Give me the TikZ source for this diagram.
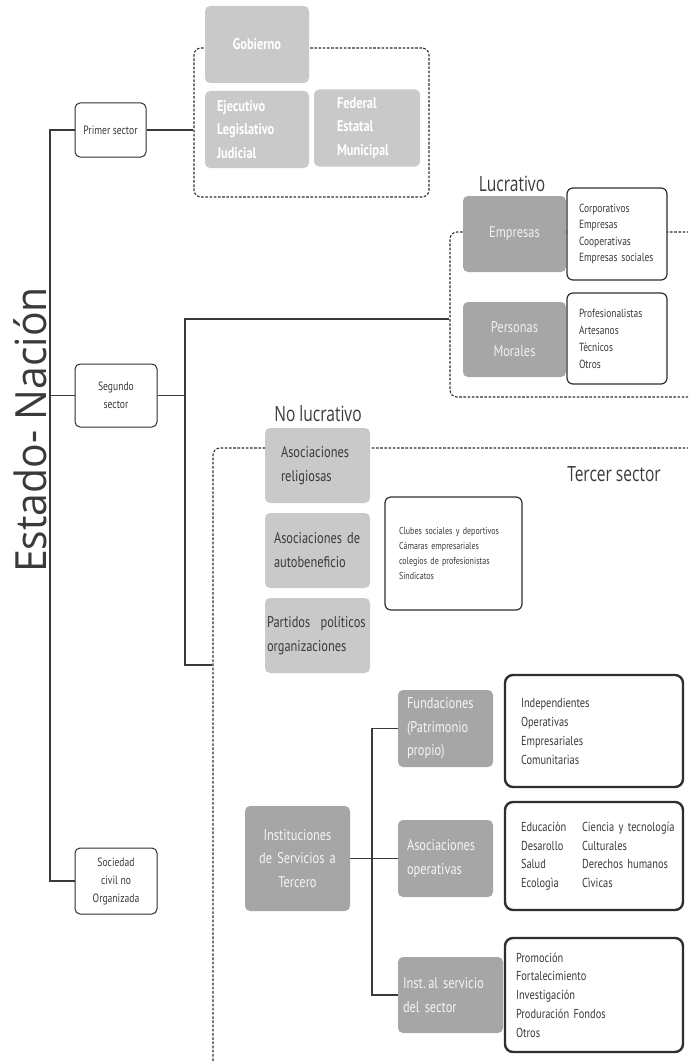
\documentclass[tikz,border=0pt]{standalone}
\usepackage{fontspec}
\newfontfamily\narrowfont{PT Sans}[FakeStretch=0.8]
\newfontfamily\lightfont{Open Sans}[FakeStretch=0.74]
\newfontfamily\titlefont{Open Sans}[FakeStretch=0.95]
\definecolor{ink}{HTML}{3A3A3A}
\definecolor{edge}{HTML}{2E2E2E}
\definecolor{boxlight}{HTML}{C9C9C9}
\definecolor{boxdark}{HTML}{A6A6A6}
\begin{document}
\begin{tikzpicture}[x=1pt,y=-1pt,
  conn/.style={draw=ink, line width=1.3pt},
  frame/.style={draw=edge, line width=1.1pt, dash pattern=on 2.6pt off 1.6pt, rounded corners=7pt, inner sep=0pt},
  sectorbox/.style={draw=edge, fill=white, line width=1pt, rounded corners=5pt, align=center, inner sep=0pt,
    text=ink, font=\narrowfont\fontsize{12}{18}\selectfont},
  govbox/.style={fill=boxlight, rounded corners=5pt, text=white, inner ysep=0pt,
    font=\narrowfont\bfseries\fontsize{15.5}{23.5}\selectfont},
  lucbox/.style={fill=boxdark, rounded corners=5pt, text=white!94!black, inner sep=0pt, align=center,
    font=\narrowfont\fontsize{15.5}{24}\selectfont},
  nlbox/.style={fill=boxlight, rounded corners=5pt, text=ink, inner ysep=0pt, align=left,
    font=\narrowfont\fontsize{15.5}{24}\selectfont},
  instbox/.style={fill=boxdark, rounded corners=5pt, text=white!96!black, inner ysep=0pt,
    font=\narrowfont\fontsize{15.5}{23.5}\selectfont},
  listbox/.style={draw=edge, fill=white, line width=1.2pt, rounded corners=6pt, inner ysep=0pt, align=left, text=ink},
  thicklist/.style={listbox, line width=2.4pt, rounded corners=8pt},
  heading/.style={text=ink, inner sep=0pt, font=\lightfont\fontsize{21}{24}\selectfont}
]
\useasboundingbox (0,0) rectangle (688,1062);
\clip (0,0) rectangle (688,1062);

% title along the trunk
\node[rotate=90, text=ink, inner sep=0pt, font=\titlefont\fontsize{43}{43}\selectfont] (title) at (30,430) {Estado- Nación};

% dashed frames (drawn first so the boxes cover them)
\node[frame, minimum width=235, minimum height=149] (govframe) at (311.5,122.5) {};
\node[frame, minimum width=280, minimum height=165] (lucframe) at (590,314.5) {};
\node[frame, minimum width=517, minimum height=652] (terframe) at (471.5,774) {};

% the three sectors
\node[sectorbox, minimum width=71, minimum height=54] (s1) at (110.5,130) {Primer sector};
\node[sectorbox, minimum width=82, minimum height=63] (s2) at (116,395.5) {Segundo\\sector};
\node[sectorbox, minimum width=82, minimum height=66] (s3) at (116,881) {Sociedad\\civil no\\Organizada};

\coordinate (trunk) at (50,0);
\draw[conn] (s1.west) -| (trunk |- s3.west) -- (s3.west);
\draw[conn] (s2.west) -- (trunk |- s2.west);
\draw[conn] (s1.east) -- (govframe.west |- s1.east);

\coordinate (j2top) at (185,319);
\coordinate (j2bot) at (185,665);
\draw[conn] (s2.east) -- (j2top |- s2.east);
\draw[conn] (lucframe.west |- j2top) -- (j2top) -- (j2bot) -- (terframe.west |- j2bot);

% primer sector: government
\node[govbox, minimum width=104, minimum height=77, align=center] (gob) at (257,44.5) {Gobierno};
\node[govbox, minimum width=104, minimum height=77, inner xsep=12pt, text width=80pt, align=left] (poderes) at (257,129.5) {Ejecutivo\\Legislativo\\Judicial};
\node[govbox, minimum width=106, minimum height=77, inner xsep=23pt, text width=60pt, align=left] (niveles) at (367,128) {Federal\\Estatal\\Municipal};

% segundo sector: lucrativo
\node[heading] (luc) at (512,184) {Lucrativo};
\node[lucbox, minimum width=103, minimum height=76] (emp) at (514.5,234) {Empresas};
\node[lucbox, minimum width=103, minimum height=75] (pm) at (514.5,339.5) {Personas\\Morales};
\node[listbox, minimum width=100, minimum height=92, inner xsep=12pt, text width=76pt,
  font=\narrowfont\fontsize{11.8}{16.3}\selectfont] (emplist) at (617,234)
  {Corporativos\\Empresas\\Cooperativas\\Empresas sociales};
\node[listbox, minimum width=100, minimum height=91, inner xsep=12pt, text width=76pt,
  font=\narrowfont\fontsize{11.8}{17}\selectfont] (pmlist) at (617,338.5)
  {Profesionalistas\\Artesanos\\Tècnicos\\Otros};

% segundo sector: no lucrativo
\node[heading] (nluc) at (318,414) {No lucrativo};
\node[heading] (tercer) at (614,474) {Tercer sector};
\node[nlbox, minimum width=105, minimum height=75, inner xsep=16pt, text width=73pt] (rel) at (317.5,465.5) {Asociaciones\\religiosas};
\node[nlbox, minimum width=105, minimum height=75, inner xsep=9pt, text width=87pt] (auto) at (317.5,550.5) {Asociaciones de\\autobeneficio};
\node[nlbox, minimum width=105, minimum height=75, inner xsep=2pt, text width=101pt] (part) at (317.5,635.5) {\mbox{Partidos\ \ políticos}\\organizaciones};
\node[listbox, minimum width=137, minimum height=113, inner xsep=14pt, text width=109pt,
  font=\narrowfont\fontsize{10}{14.8}\selectfont] (clubes) at (453.5,553.5)
  {Clubes sociales y deportivos\\Cámaras empresariales\\colegios de profesionistas\\Sindicatos};

% instituciones de servicios a terceros
\node[instbox, minimum width=105, minimum height=105, inner xsep=0pt, text width=105pt, align=center] (inst) at (297.5,858.5) {Instituciones\\de Servicios a\\Tercero};
\node[instbox, minimum width=95, minimum height=77, inner xsep=9pt, text width=77pt, align=left] (fund) at (445.5,728.5) {Fundaciones\\(Patrimonio\\propio)};
\node[instbox, minimum width=95, minimum height=77, inner xsep=9pt, text width=77pt, align=left] (asop) at (445.5,858.5) {Asociaciones\\operativas};
\node[instbox, minimum width=105, minimum height=76, inner xsep=5pt, text width=95pt, align=left] (serv) at (450.5,995) {Inst.\,al servicio\\del sector};

\coordinate (j3) at (372,0);
\draw[conn] (inst.east) -- (j3 |- inst.east);
\draw[conn] (fund.west) -- (j3 |- fund.west) -- (j3 |- serv.west) -- (serv.west);
\draw[conn] (j3 |- asop.west) -- (asop.west);

\node[thicklist, minimum width=178, minimum height=112, inner xsep=16pt, text width=146pt,
  font=\narrowfont\fontsize{13}{19}\selectfont] (fundlist) at (594,731)
  {Independientes\\Operativas\\Empresariales\\Comunitarias};
\node[thicklist, minimum width=178, minimum height=108, inner xsep=16pt, text width=146pt,
  font=\narrowfont\fontsize{13}{18.5}\selectfont] (asoplist) at (594,856)
  {\begin{tabular}{@{}p{61pt}@{}l@{}}
   Educaciòn & Ciencia y tecnología\\
   Desarollo & Culturales\\
   Salud & Derechos humanos\\
   Ecologìa & Cìvicas
   \end{tabular}};
\node[thicklist, minimum width=178, minimum height=114, inner xsep=11pt, text width=156pt,
  font=\narrowfont\fontsize{13}{18.7}\selectfont] (servlist) at (594,995)
  {Promoción\\Fortalecimiento\\Investigación\\Produración Fondos\\Otros};
\end{tikzpicture}
\end{document}
